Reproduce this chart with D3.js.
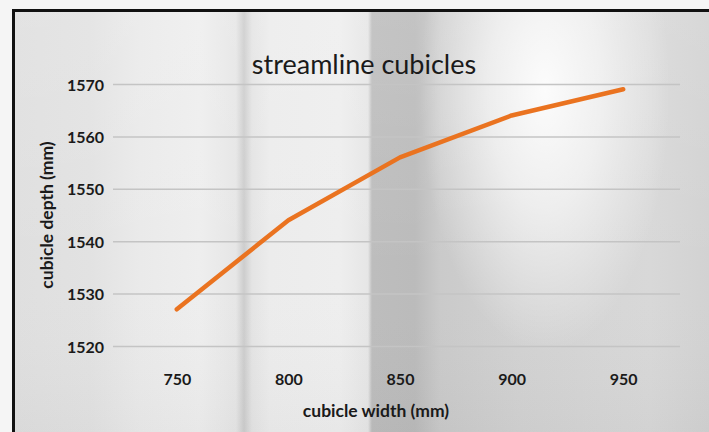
<!DOCTYPE html>
<html>
<head>
<meta charset="utf-8">
<script src="https://cdn.jsdelivr.net/npm/d3@7"></script>
<style>
  html, body { margin: 0; padding: 0; background: #f5f5f5; }
  svg { display: block; }
  text { font-family: Lato, "Open Sans", sans-serif; fill: #1a1a1a; }
</style>
</head>
<body>
<svg id="chart" width="709" height="432"></svg>
<script>
const categories = ["750", "800", "850", "900", "950"];
const depthValues = [1527, 1544, 1556, 1564, 1569];
const yTicks = [1520, 1530, 1540, 1550, 1560, 1570];
const titleText = "streamline cubicles";
const xTitle = "cubicle width (mm)";
const yTitle = "cubicle depth (mm)";

const svg = d3.select("#chart");
const W = 709, H = 432;
const FONT = "Lato, \"Open Sans\", sans-serif";

// background gradients (approximation of photo background)
const defs = svg.append("defs");
const hg = defs.append("linearGradient").attr("id", "hg")
  .attr("gradientUnits", "userSpaceOnUse").attr("x1", 15).attr("x2", 709).attr("y1", 0).attr("y2", 0);
const hStops = [
  [15, "#dfdfdf"], [90, "#e2e2e2"], [140, "#eaeaea"], [200, "#eeeeee"], [236, "#e6e6e6"],
  [244, "#cdcdcd"], [252, "#e4e4e4"], [270, "#ececec"], [340, "#eeeeee"], [368, "#e6e6e6"],
  [372, "#bdbdbd"], [415, "#bbbbbb"], [440, "#cacaca"], [520, "#d2d2d2"], [600, "#d6d6d6"],
  [650, "#d8d8d8"], [709, "#d2d2d2"]
];
hStops.forEach(s => hg.append("stop").attr("offset", (s[0] - 15) / (709 - 15)).attr("stop-color", s[1]));

const rg = defs.append("radialGradient").attr("id", "rg").attr("gradientUnits", "userSpaceOnUse")
  .attr("cx", 545).attr("cy", 90).attr("r", 250)
  .attr("gradientTransform", "translate(545,90) scale(0.5,1.05) translate(-545,-90)");
rg.append("stop").attr("offset", 0).attr("stop-color", "#ffffff").attr("stop-opacity", 0.92);
rg.append("stop").attr("offset", 0.45).attr("stop-color", "#ffffff").attr("stop-opacity", 0.6);
rg.append("stop").attr("offset", 1).attr("stop-color", "#ffffff").attr("stop-opacity", 0);

const vg = defs.append("linearGradient").attr("id", "vg").attr("x1", 0).attr("x2", 0).attr("y1", 0).attr("y2", 1);
vg.append("stop").attr("offset", 0).attr("stop-color", "#ffffff").attr("stop-opacity", 0.12);
vg.append("stop").attr("offset", 0.6).attr("stop-color", "#ffffff").attr("stop-opacity", 0);
vg.append("stop").attr("offset", 1).attr("stop-color", "#000000").attr("stop-opacity", 0.03);

svg.append("rect").attr("width", W).attr("height", H).attr("fill", "#f5f5f5");
svg.append("rect").attr("x", 12).attr("y", 9).attr("width", W).attr("height", H).attr("fill", "#111");
svg.append("rect").attr("x", 15).attr("y", 12).attr("width", W).attr("height", H).attr("fill", "url(#hg)");
svg.append("rect").attr("x", 15).attr("y", 12).attr("width", W).attr("height", H).attr("fill", "url(#vg)");
svg.append("rect").attr("x", 15).attr("y", 12).attr("width", W).attr("height", H).attr("fill", "url(#rg)");

// scales
const y = d3.scaleLinear().domain([1520, 1570]).range([346, 84]);
const x = d3.scalePoint().domain(categories).range([121, 679]).padding(0.5);
const gridLeft = 113, gridRight = 680;

// y axis with gridlines
const yAxis = svg.append("g").attr("transform", `translate(${gridLeft},0)`)
  .call(d3.axisLeft(y).tickValues(yTicks).tickSize(-(gridRight - gridLeft)).tickPadding(9).tickFormat(d3.format("d")));
yAxis.select(".domain").remove();
yAxis.selectAll(".tick line").attr("stroke", "#c4c4c4").attr("stroke-width", 1.5);
yAxis.selectAll(".tick text").attr("font-size", 16).attr("font-weight", 700).attr("fill", "#1a1a1a").attr("dy", "0.38em")
  .attr("font-family", FONT);

// x axis
const xAxis = svg.append("g").attr("transform", `translate(0,346)`)
  .call(d3.axisBottom(x).tickSize(0).tickPadding(28));
xAxis.select(".domain").remove();
xAxis.selectAll(".tick text").attr("font-size", 16).attr("font-weight", 700).attr("fill", "#1a1a1a")
  .attr("font-family", FONT);

// line
const line = d3.line().x((d, i) => x(categories[i])).y(d => y(d));
svg.append("path").datum(depthValues).attr("d", line).attr("fill", "none")
  .attr("stroke", "#ea7320").attr("stroke-width", 4.5).attr("stroke-linecap", "round").attr("stroke-linejoin", "round");

// titles
svg.append("text").attr("x", 364).attr("y", 74).attr("text-anchor", "middle")
  .attr("font-size", 27).attr("font-weight", 400).text(titleText);
svg.append("text").attr("x", 376).attr("y", 417).attr("text-anchor", "middle")
  .attr("font-size", 17.5).attr("font-weight", 700).text(xTitle);
svg.append("text").attr("transform", "translate(53,215) rotate(-90)").attr("text-anchor", "middle")
  .attr("font-size", 17.5).attr("font-weight", 700).text(yTitle);
</script>
</body>
</html>
